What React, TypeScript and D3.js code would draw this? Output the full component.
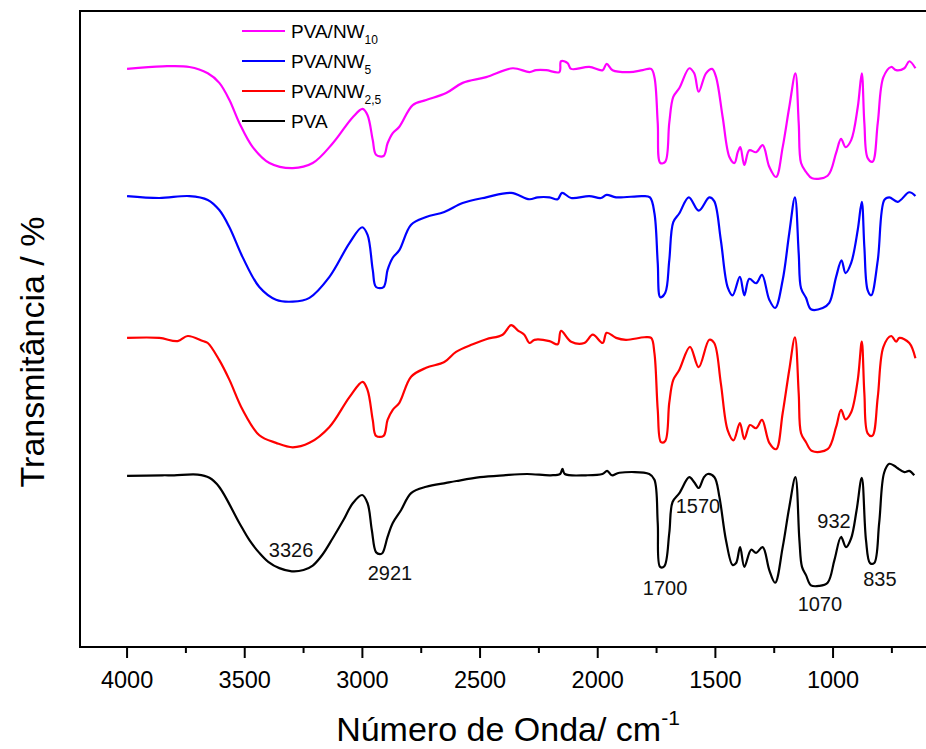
import React from "react";
import * as d3 from "d3";

// FTIR spectra, values in arbitrary transmittance units (curves offset)
const pva: [number, number][] = [
  [4000, 26.9], [3850, 27.0], [3800, 27.0], [3700, 27.1], [3650, 26.6], [3609, 25.2],
  [3523, 19.5], [3480, 16.8], [3438, 14.8], [3400, 13.4], [3353, 12.4], [3300, 11.9],
  [3250, 12.1], [3211, 12.8], [3170, 14.5], [3126, 17.1], [3080, 20.0], [3041, 22.6],
  [3001, 23.9], [2978, 22.6], [2960, 18.4], [2942, 14.9], [2925, 14.6], [2914, 14.8],
  [2893, 17.3], [2871, 19.5], [2836, 21.5], [2793, 24.2], [2729, 25.2], [2644, 25.8],
  [2600, 26.1], [2500, 26.7], [2400, 27.0], [2300, 27.2], [2200, 27.0], [2160, 27.2],
  [2150, 28.0], [2140, 27.2], [2050, 27.0], [1980, 27.2], [1960, 27.7], [1940, 27.0],
  [1908, 27.4], [1781, 27.2], [1759, 26.3], [1745, 19.5], [1735, 12.6], [1717, 12.7],
  [1696, 17.9], [1682, 22.8], [1653, 24.2], [1611, 26.7], [1590, 25.9], [1571, 25.0],
  [1550, 26.6], [1533, 27.2], [1504, 26.7], [1483, 23.6], [1455, 16.8], [1427, 12.9],
  [1412, 13.2], [1395, 15.7], [1377, 12.6], [1348, 15.3], [1327, 14.8], [1299, 15.7],
  [1271, 12.1], [1246, 10.1], [1214, 15.7], [1186, 22.0], [1160, 26.7], [1143, 16.8],
  [1132, 12.6], [1115, 11.3], [1094, 9.7], [1060, 9.6], [1023, 10.1], [994, 13.7],
  [966, 17.3], [945, 15.7], [923, 17.1], [900, 21.5], [878, 26.6], [860, 16.8],
  [843, 13.2], [825, 13.2], [804, 19.5], [783, 27.4], [761, 28.8], [740, 28.5],
  [725, 28.1], [697, 27.5], [676, 27.7], [655, 27.0],
];

const nw25: [number, number][] = [
  [4000, 48.6], [3863, 48.6], [3785, 48.1], [3742, 48.9], [3678, 48.1], [3657, 47.8],
  [3608, 45.1], [3565, 42.0], [3509, 37.3], [3438, 33.3], [3367, 32.1], [3296, 31.4],
  [3225, 32.1], [3140, 34.6], [3055, 39.3], [2999, 41.7], [2978, 40.4], [2956, 35.7],
  [2942, 33.2], [2910, 33.2], [2893, 35.7], [2871, 37.3], [2843, 38.4], [2793, 42.5],
  [2729, 43.9], [2652, 44.8], [2602, 46.4], [2531, 47.6], [2474, 48.4], [2404, 49.1],
  [2368, 50.6], [2340, 49.8], [2312, 49.1], [2290, 47.8], [2269, 48.3], [2205, 48.1],
  [2170, 47.6], [2156, 49.7], [2113, 48.0], [2057, 47.8], [2021, 49.1], [1979, 47.8],
  [1962, 49.4], [1922, 48.6], [1880, 48.3], [1802, 48.7], [1773, 48.6], [1759, 46.2],
  [1745, 37.3], [1731, 32.2], [1713, 32.4], [1696, 38.4], [1679, 42.0], [1653, 43.6],
  [1608, 47.2], [1571, 44.0], [1526, 48.3], [1505, 47.8], [1477, 41.5], [1448, 34.1],
  [1423, 32.5], [1396, 35.2], [1377, 32.7], [1353, 34.9], [1327, 34.4], [1302, 35.7],
  [1271, 32.1], [1242, 31.1], [1214, 36.8], [1186, 43.6], [1162, 48.7], [1146, 39.9],
  [1136, 33.6], [1115, 32.2], [1089, 30.8], [1023, 31.1], [987, 34.6], [966, 37.3],
  [947, 35.8], [923, 36.9], [895, 42.0], [878, 48.0], [867, 39.9], [853, 33.6],
  [833, 33.2], [810, 39.3], [786, 47.2], [753, 48.9], [732, 48.0], [718, 48.6],
  [676, 47.8], [650, 45.4],
];

const nw5: [number, number][] = [
  [4000, 70.9], [3863, 70.6], [3735, 70.9], [3657, 70.3], [3608, 68.7], [3565, 66.0],
  [3509, 61.3], [3438, 56.6], [3367, 54.6], [3296, 54.3], [3225, 54.9], [3140, 58.2],
  [3055, 63.5], [3001, 66.0], [2978, 64.8], [2956, 59.3], [2942, 56.6], [2910, 56.6],
  [2893, 59.3], [2871, 61.2], [2843, 62.4], [2793, 66.4], [2729, 67.6], [2652, 68.4],
  [2574, 69.8], [2474, 70.7], [2368, 71.4], [2290, 70.4], [2255, 70.7], [2205, 70.7],
  [2170, 70.4], [2152, 71.4], [2113, 70.6], [2036, 70.9], [1986, 70.6], [1962, 71.1],
  [1922, 70.7], [1809, 70.9], [1778, 70.7], [1759, 68.2], [1745, 60.4], [1734, 55.0],
  [1713, 55.7], [1696, 60.8], [1679, 66.8], [1653, 68.2], [1613, 70.7], [1571, 68.6],
  [1526, 70.7], [1505, 70.1], [1477, 64.0], [1448, 56.6], [1427, 55.3], [1396, 58.2],
  [1377, 55.3], [1356, 57.9], [1327, 57.2], [1302, 58.5], [1271, 54.6], [1246, 53.3],
  [1214, 57.7], [1186, 65.1], [1162, 70.7], [1146, 61.9], [1136, 56.4], [1115, 54.9],
  [1094, 53.1], [1044, 53.3], [1016, 54.1], [987, 58.2], [964, 60.8], [947, 58.8],
  [923, 60.4], [895, 65.6], [878, 70.0], [867, 62.9], [853, 56.1], [838, 55.3],
  [810, 60.8], [782, 70.3], [761, 70.7], [725, 70.0], [676, 71.5], [650, 70.9],
];

const nw10: [number, number][] = [
  [4000, 90.9], [3849, 91.3], [3735, 91.2], [3657, 90.2], [3608, 88.7], [3565, 86.0],
  [3523, 82.4], [3466, 78.6], [3395, 76.1], [3296, 75.3], [3211, 76.1], [3126, 79.2],
  [3041, 83.3], [2999, 84.6], [2978, 83.6], [2956, 79.7], [2942, 77.4], [2910, 77.2],
  [2893, 79.2], [2871, 80.8], [2843, 81.8], [2786, 85.2], [2729, 86.0], [2644, 87.1],
  [2574, 88.7], [2474, 89.6], [2361, 91.0], [2290, 90.4], [2262, 90.7], [2219, 90.7],
  [2163, 90.4], [2156, 92.1], [2128, 91.8], [2113, 90.9], [2036, 91.2], [1979, 90.7],
  [1962, 91.7], [1937, 90.7], [1866, 90.4], [1809, 90.7], [1773, 90.9], [1759, 89.6],
  [1745, 82.4], [1734, 76.1], [1713, 76.3], [1696, 82.4], [1679, 86.5], [1653, 87.9],
  [1611, 91.0], [1590, 90.2], [1571, 87.3], [1540, 90.2], [1514, 90.9], [1497, 89.6],
  [1469, 83.3], [1440, 77.0], [1419, 76.1], [1405, 77.8], [1394, 78.6], [1377, 75.8],
  [1356, 78.1], [1327, 77.8], [1299, 78.9], [1271, 75.5], [1242, 73.9], [1214, 78.6],
  [1186, 84.9], [1160, 90.2], [1146, 82.4], [1136, 76.1], [1115, 74.7], [1089, 73.7],
  [1023, 74.1], [987, 77.7], [966, 79.9], [947, 78.6], [923, 79.7], [895, 84.9],
  [878, 90.2], [867, 82.4], [853, 76.9], [832, 76.3], [810, 82.4], [786, 89.6],
  [753, 91.2], [732, 90.7], [697, 91.0], [676, 92.1], [650, 91.0],
];

const seriesNames = ["PVA/NW", "PVA/NW", "PVA/NW", "PVA"];
const seriesSubs = ["10", "5", "2,5", ""];
const seriesColors = ["#ff00ff", "#0000ff", "#ff0000", "#000000"];
const seriesData = [nw10, nw5, nw25, pva];

const majorTicks = [4000, 3500, 3000, 2500, 2000, 1500, 1000];
const minorTicks = [3750, 3250, 2750, 2250, 1750, 1250, 750];

const peakLabels = ["3326", "2921", "1700", "1570", "1070", "932", "835"];
const peakX = [3303, 2883, 1714, 1574, 1056, 996, 801];
const peakY = [14.2, 10.5, 8.2, 21.1, 5.7, 18.7, 9.6];

const W = 926;
const H = 749;
const FONT = "'Liberation Sans', Arial, Helvetica, sans-serif";

export default function App() {
  const left = 80;
  const top = 11;
  const bottom = 647;

  const x = d3.scaleLinear().domain([4200, 400]).range([left, left + 3800 * 0.23533]);
  const y = d3.scaleLinear().domain([0, 100]).range([bottom, top]);

  const line = d3
    .line<[number, number]>()
    .x((d) => x(d[0]))
    .y((d) => y(d[1]))
    .curve(d3.curveCatmullRom.alpha(0.5));

  const plotRight = x(400);

  return (
    <svg
      width={W}
      height={H}
      style={{ position: "absolute", left: 0, top: 0, background: "#fff" }}
      fontFamily={FONT}
    >
      <rect x={0} y={0} width={W} height={H} fill="#fff" />

      {/* frame */}
      <rect
        x={left}
        y={top}
        width={plotRight - left}
        height={bottom - top}
        fill="none"
        stroke="#000"
        strokeWidth={2}
      />

      {/* ticks */}
      {majorTicks.map((t) => (
        <g key={"M" + t}>
          <line x1={x(t)} x2={x(t)} y1={bottom} y2={bottom + 11} stroke="#000" strokeWidth={2} />
          <text x={x(t)} y={688} fontSize={23.5} textAnchor="middle" fill="#000">
            {t}
          </text>
        </g>
      ))}
      {minorTicks.map((t) => (
        <line key={"m" + t} x1={x(t)} x2={x(t)} y1={bottom} y2={bottom + 6} stroke="#000" strokeWidth={2} />
      ))}

      {/* spectra */}
      {seriesData.map((d, i) => (
        <path key={i} d={line(d) || ""} fill="none" stroke={seriesColors[i]} strokeWidth={2.2} strokeLinejoin="round" />
      ))}

      {/* peak labels */}
      {peakLabels.map((l, i) => (
        <text key={l} x={x(peakX[i])} y={y(peakY[i])} fontSize={20} textAnchor="middle" fill="#111">
          {l}
        </text>
      ))}

      {/* legend */}
      {seriesNames.map((n, i) => {
        const ly = 31 + i * 30;
        return (
          <g key={i}>
            <line x1={242} x2={285} y1={ly} y2={ly} stroke={seriesColors[i]} strokeWidth={2.2} />
            <text x={291} y={ly + 7} fontSize={19} fill="#000">
              {n}
              {seriesSubs[i] && (
                <tspan fontSize={12} dy={6}>
                  {seriesSubs[i]}
                </tspan>
              )}
            </text>
          </g>
        );
      })}

      {/* axis titles */}
      <text x={508} y={741} fontSize={34} textAnchor="middle" fill="#000">
        Número de Onda/ cm
        <tspan fontSize={21} dy={-16}>
          -1
        </tspan>
      </text>
      <text
        transform={`translate(44, ${352}) rotate(-90)`}
        fontSize={34}
        textAnchor="middle"
        fill="#000"
      >
        Transmitância / %
      </text>
    </svg>
  );
}
